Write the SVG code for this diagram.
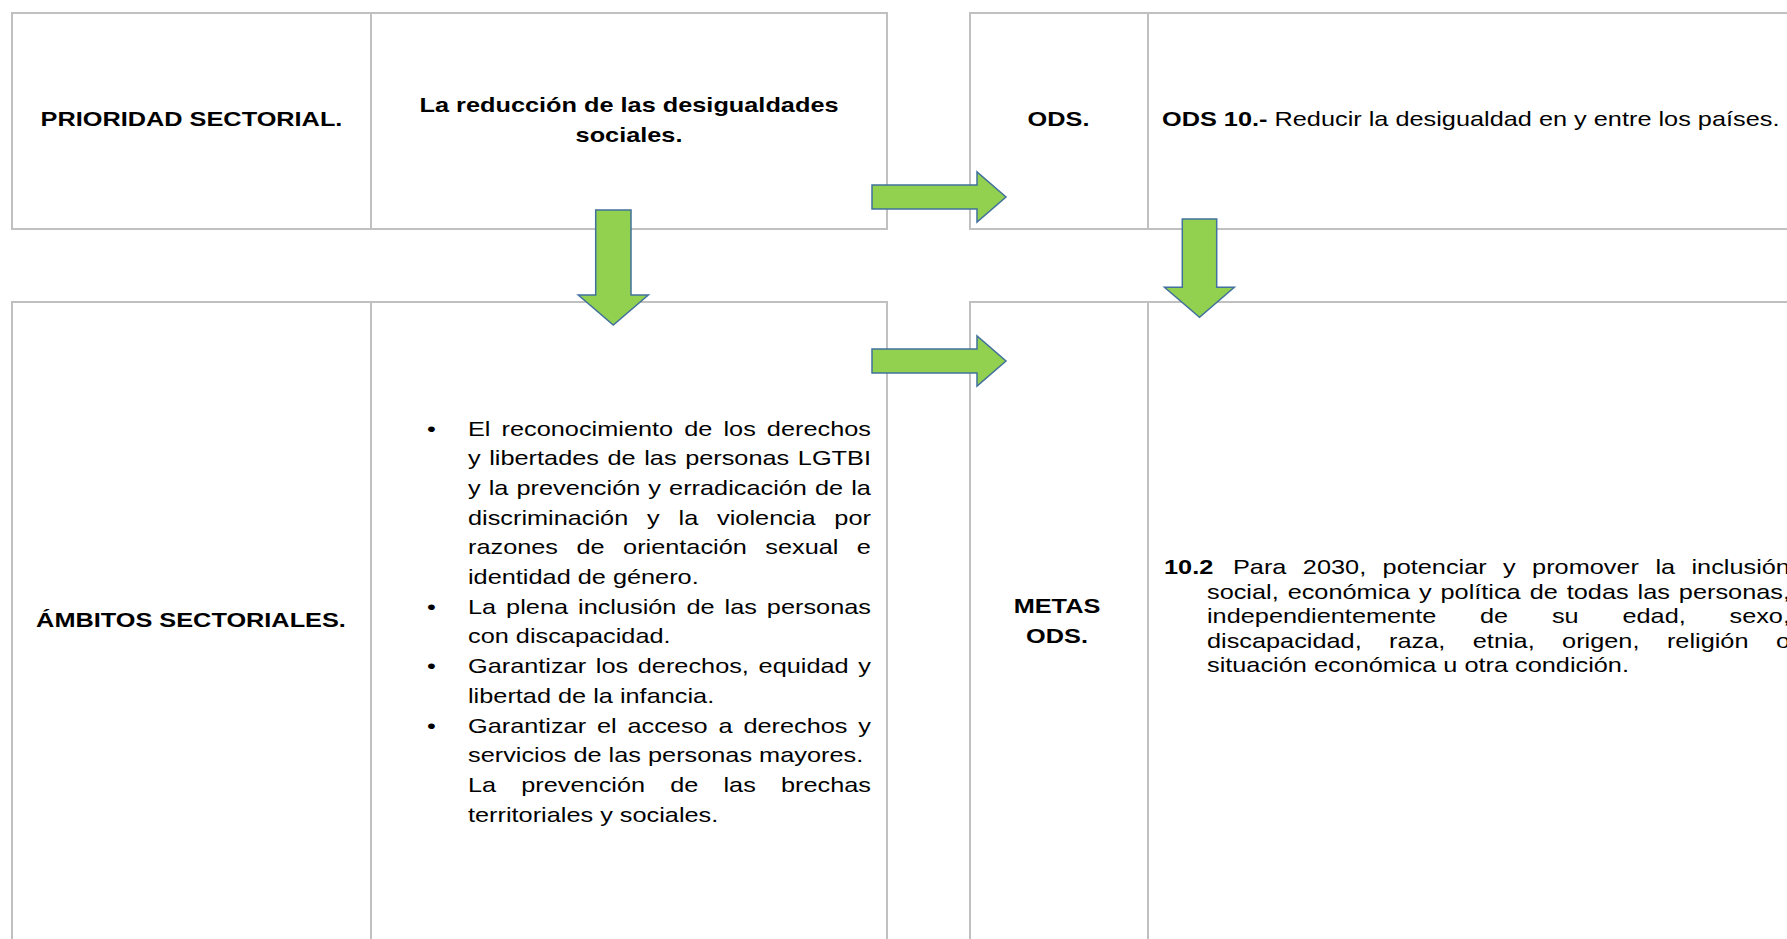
<svg xmlns="http://www.w3.org/2000/svg" width="1787" height="939" viewBox="0 0 1787 939">
<style>
.t{font-family:"Liberation Sans",Arial,sans-serif;font-size:21px;fill:#000}
.b{font-weight:bold}
.cell{fill:#fff;stroke:#C0C0C0;stroke-width:2}
.arrow{fill:#92D050;stroke:#41719C;stroke-width:1.5}
</style>
<rect width="1787" height="939" fill="#fff"/>
<g id="prioridad-label">
<rect class="cell" x="12" y="13" width="359" height="216"/>
<text class="t b" text-anchor="middle" transform="matrix(1.205 0 0 1 191.5 126)">PRIORIDAD SECTORIAL.</text>
</g>
<g id="prioridad-value">
<rect class="cell" x="371" y="13" width="516" height="216"/>
<text class="t b" text-anchor="middle" transform="matrix(1.205 0 0 1 629 112)">La reducción de las desigualdades</text>
<text class="t b" text-anchor="middle" transform="matrix(1.205 0 0 1 629 141.5)">sociales.</text>
</g>
<g id="ods-label">
<rect class="cell" x="970" y="13" width="178" height="216"/>
<text class="t b" text-anchor="middle" transform="matrix(1.205 0 0 1 1058.5 126)">ODS.</text>
</g>
<g id="ods-value">
<rect class="cell" x="1148" y="13" width="660" height="216"/>
<text class="t" transform="matrix(1.205 0 0 1 1162 126)"><tspan class="b">ODS 10.-</tspan> Reducir la desigualdad en y entre los países.</text>
</g>
<g id="ambitos-label">
<rect class="cell" x="12" y="302" width="359" height="660"/>
<text class="t b" text-anchor="middle" transform="matrix(1.205 0 0 1 191 627.3)">ÁMBITOS SECTORIALES.</text>
</g>
<g id="ambitos-value">
<rect class="cell" x="371" y="302" width="516" height="660"/>
<text class="t" text-anchor="middle" transform="matrix(1.205 0 0 1 431.4 435.5)">•</text>
<text class="t" text-anchor="middle" transform="matrix(1.205 0 0 1 431.4 613.7)">•</text>
<text class="t" text-anchor="middle" transform="matrix(1.205 0 0 1 431.4 673.1)">•</text>
<text class="t" text-anchor="middle" transform="matrix(1.205 0 0 1 431.4 732.5)">•</text>
<text class="t" word-spacing="3.36" textLength="334.4" lengthAdjust="spacing" transform="matrix(1.205 0 0 1 468 435.5)">El reconocimiento de los derechos</text>
<text class="t" word-spacing="1.28" textLength="334.4" lengthAdjust="spacing" transform="matrix(1.205 0 0 1 468 465.2)">y libertades de las personas LGTBI</text>
<text class="t" word-spacing="0.88" textLength="334.4" lengthAdjust="spacing" transform="matrix(1.205 0 0 1 468 494.9)">y la prevención y erradicación de la</text>
<text class="t" word-spacing="9.79" textLength="334.4" lengthAdjust="spacing" transform="matrix(1.205 0 0 1 468 524.6)">discriminación y la violencia por</text>
<text class="t" word-spacing="9.48" textLength="334.4" lengthAdjust="spacing" transform="matrix(1.205 0 0 1 468 554.3)">razones de orientación sexual e</text>
<text class="t" transform="matrix(1.205 0 0 1 468 584)">identidad de género.</text>
<text class="t" word-spacing="2.45" textLength="334.4" lengthAdjust="spacing" transform="matrix(1.205 0 0 1 468 613.7)">La plena inclusión de las personas</text>
<text class="t" transform="matrix(1.205 0 0 1 468 643.4)">con discapacidad.</text>
<text class="t" word-spacing="2.19" textLength="334.4" lengthAdjust="spacing" transform="matrix(1.205 0 0 1 468 673.1)">Garantizar los derechos, equidad y</text>
<text class="t" transform="matrix(1.205 0 0 1 468 702.8)">libertad de la infancia.</text>
<text class="t" word-spacing="3.16" textLength="334.4" lengthAdjust="spacing" transform="matrix(1.205 0 0 1 468 732.5)">Garantizar el acceso a derechos y</text>
<text class="t" transform="matrix(1.205 0 0 1 468 762.2)">servicios de las personas mayores.</text>
<text class="t" word-spacing="15.03" textLength="334.4" lengthAdjust="spacing" transform="matrix(1.205 0 0 1 468 791.9)">La prevención de las brechas</text>
<text class="t" transform="matrix(1.205 0 0 1 468 821.6)">territoriales y sociales.</text>
</g>
<g id="metas-label">
<rect class="cell" x="970" y="302" width="178" height="660"/>
<text class="t b" text-anchor="middle" transform="matrix(1.205 0 0 1 1057 613.3)">METAS</text>
<text class="t b" text-anchor="middle" transform="matrix(1.205 0 0 1 1057 643.3)">ODS.</text>
</g>
<g id="metas-value">
<rect class="cell" x="1148" y="302" width="660" height="660"/>
<text class="t b" transform="matrix(1.205 0 0 1 1164 574)">10.2</text>
<text class="t" word-spacing="7.78" textLength="462.2" lengthAdjust="spacing" transform="matrix(1.205 0 0 1 1233 574)">Para 2030, potenciar y promover la inclusión</text>
<text class="t" word-spacing="1.59" textLength="483.8" lengthAdjust="spacing" transform="matrix(1.205 0 0 1 1207 598.5)">social, económica y política de todas las personas,</text>
<text class="t" word-spacing="30.5" textLength="483.8" lengthAdjust="spacing" transform="matrix(1.205 0 0 1 1207 623)">independientemente de su edad, sexo,</text>
<text class="t" word-spacing="16.92" textLength="483.8" lengthAdjust="spacing" transform="matrix(1.205 0 0 1 1207 647.5)">discapacidad, raza, etnia, origen, religión o</text>
<text class="t" transform="matrix(1.205 0 0 1 1207 672)">situación económica u otra condición.</text>
</g>
<g id="connectors">
<path id="arrow-prioridad-ods" class="arrow" d="M872,185 H977 V172 L1006,197 L977,222 V209 H872 Z"/>
<path id="arrow-ambitos-metas" class="arrow" d="M872,349 H977 V336 L1006,361 L977,386 V373 H872 Z"/>
<path id="arrow-prioridad-ambitos" class="arrow" d="M595.7,210 H631 V295 H648.3 L613.3,325 L578.3,295 H595.7 Z"/>
<path id="arrow-ods-metas" class="arrow" d="M1182.3,219 H1216.7 V287.3 H1234.3 L1199.5,317.3 L1164.5,287.3 H1182.3 Z"/>
</g>
</svg>
